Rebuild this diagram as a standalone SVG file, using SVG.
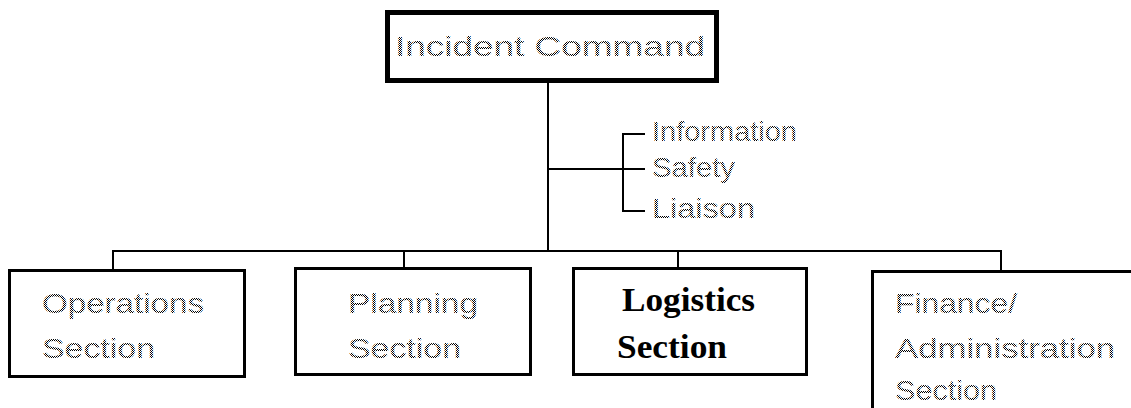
<svg xmlns="http://www.w3.org/2000/svg" width="1131" height="408" viewBox="0 0 1131 408">
  <defs>
    <!-- fine dot screen used for the light, stippled labels -->
    <pattern id="stipple" width="2" height="2" patternUnits="userSpaceOnUse">
      <rect width="2" height="2" fill="#ffffff"/>
      <rect x="0" y="0" width="1" height="1" fill="#000000"/>
      <rect x="1" y="1" width="1" height="1" fill="#000000"/>
    </pattern>
  </defs>
  <style>
    .box { fill: #ffffff; stroke: #000000; stroke-width: 3; }
    .top { fill: #ffffff; stroke: #000000; stroke-width: 5; }
    .wire { fill: none; stroke: #000000; stroke-width: 2; }
    .dot { font-family: "Liberation Sans", Arial, sans-serif; font-size: 28px; fill: url(#stipple); }
    .bold { font-family: "Liberation Serif", "Times New Roman", serif; font-size: 33px; font-weight: bold; fill: #000000; }
  </style>
  <rect width="1131" height="408" fill="#ffffff"/>

  <!-- connectors -->
  <g id="connectors">
    <line class="wire" x1="548" y1="82" x2="548" y2="251"/>
    <line class="wire" x1="548" y1="169" x2="645" y2="169"/>
    <line class="wire" x1="623" y1="133" x2="623" y2="212"/>
    <line class="wire" x1="622" y1="134" x2="645" y2="134"/>
    <line class="wire" x1="622" y1="211" x2="645" y2="211"/>
    <line class="wire" x1="112" y1="251" x2="1002" y2="251"/>
    <line class="wire" x1="113" y1="250" x2="113" y2="270"/>
    <line class="wire" x1="404" y1="250" x2="404" y2="268"/>
    <line class="wire" x1="678" y1="250" x2="678" y2="268"/>
    <line class="wire" x1="1001" y1="250" x2="1001" y2="271"/>
  </g>

  <g id="incident-command">
    <rect class="top" x="387.5" y="12.5" width="329" height="68"/>
    <text class="dot" x="395" y="56" font-size="30" textLength="310" lengthAdjust="spacingAndGlyphs">Incident Command</text>
  </g>

  <g id="staff">
    <text class="dot" x="652" y="141" font-size="24" textLength="145" lengthAdjust="spacingAndGlyphs">Information</text>
    <text class="dot" x="652" y="177" font-size="24" textLength="83" lengthAdjust="spacingAndGlyphs">Safety</text>
    <text class="dot" x="652" y="218" font-size="24" textLength="103" lengthAdjust="spacingAndGlyphs">Liaison</text>
  </g>

  <g id="operations">
    <rect class="box" x="9.5" y="270.5" width="235" height="106"/>
    <text class="dot" x="42" y="313" textLength="162" lengthAdjust="spacingAndGlyphs">Operations</text>
    <text class="dot" x="42" y="358" textLength="113" lengthAdjust="spacingAndGlyphs">Section</text>
  </g>

  <g id="planning">
    <rect class="box" x="295.5" y="268.5" width="235" height="106"/>
    <text class="dot" x="348" y="313" textLength="130" lengthAdjust="spacingAndGlyphs">Planning</text>
    <text class="dot" x="348" y="358" textLength="113" lengthAdjust="spacingAndGlyphs">Section</text>
  </g>

  <g id="logistics">
    <rect class="box" x="573.5" y="268.5" width="233" height="106"/>
    <text class="bold" x="622" y="311" textLength="133" lengthAdjust="spacingAndGlyphs">Logistics</text>
    <text class="bold" x="617" y="358" textLength="110" lengthAdjust="spacingAndGlyphs">Section</text>
  </g>

  <g id="finance-administration">
    <rect class="box" x="872.5" y="271.5" width="270" height="150"/>
    <text class="dot" x="895" y="313" textLength="122" lengthAdjust="spacingAndGlyphs">Finance/</text>
    <text class="dot" x="895" y="358" textLength="220" lengthAdjust="spacingAndGlyphs">Administration</text>
    <text class="dot" x="895" y="400" textLength="102" lengthAdjust="spacingAndGlyphs">Section</text>
  </g>
</svg>
